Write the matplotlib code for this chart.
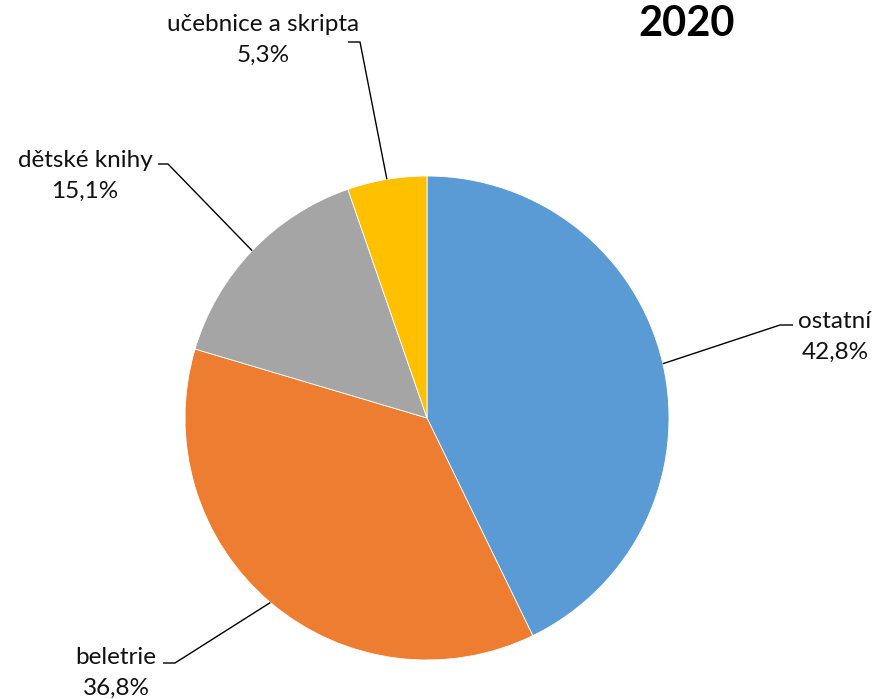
import numpy as np
import matplotlib
matplotlib.use("Agg")
import matplotlib.pyplot as plt

plt.rcParams['font.family'] = ['Lato', 'DejaVu Sans']

# data
categories = ["ostatní", "beletrie", "dětské knihy", "učebnice a skripta"]
shares = [42.8, 36.8, 15.1, 5.3]
share_labels = ["42,8%", "36,8%", "15,1%", "5,3%"]
colors = ["#5B9BD5", "#ED7D31", "#A5A5A5", "#FFC000"]
title = "2020"

W, H = 876, 699

def py(y):
    # pixel row -> data y
    return H - y

fig = plt.figure(figsize=(W / 100, H / 100), dpi=100)
ax = fig.add_axes([0, 0, 1, 1])

cx, cy, r = 427, py(418), 242
wedges, _ = ax.pie(shares, colors=colors, startangle=90, counterclock=False,
                   center=(cx, cy), radius=r, frame=True,
                   wedgeprops=dict(edgecolor="white", linewidth=0.6))
ax.set_xlim(0, W)
ax.set_ylim(0, H)
ax.set_aspect("equal")
ax.axis("off")

# label layout: (text centre, elbow, end of leader) in pixels
layout = [
    ((835, 337), (780, 325), (793, 325)),
    ((116, 673), (175, 663), (163, 663)),
    ((85, 176), (168, 164), (158, 164)),
    ((263, 40), (360, 42), (348, 42)),
]

for w, cat, lab, (tpos, elbow, end) in zip(wedges, categories, share_labels, layout):
    mid = np.deg2rad((w.theta1 + w.theta2) / 2)
    sx = cx + r * np.cos(mid)
    sy = cy + r * np.sin(mid)
    ax.plot([sx, elbow[0], end[0]], [sy, py(elbow[1]), py(end[1])],
            color="black", lw=1, solid_capstyle="butt")
    ax.text(tpos[0], py(tpos[1]), cat + "\n" + lab, ha="center", va="center",
            fontsize=17.5, linespacing=1.6, color="#111111")

ax.text(687, py(24), title, ha="center", va="center", fontsize=30,
        fontweight="bold", color="black")

fig.savefig("out.png", dpi=100, facecolor="white")
